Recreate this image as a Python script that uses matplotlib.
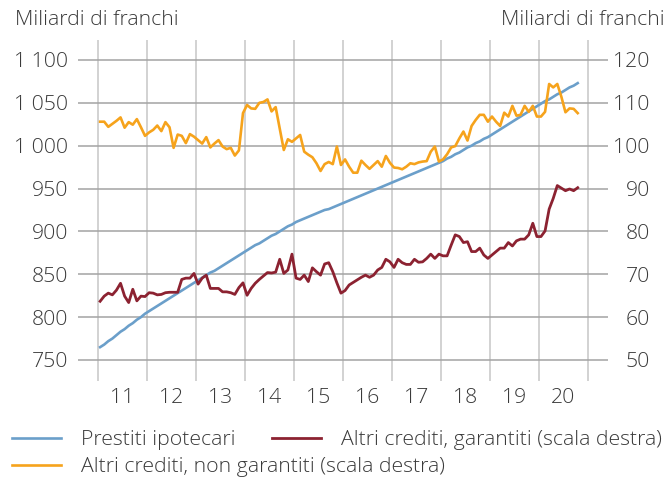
import matplotlib.pyplot as plt
import numpy as np
from matplotlib.ticker import FuncFormatter

plt.rcParams['font.family'] = ['Open Sans', 'DejaVu Sans']
plt.rcParams['font.weight'] = 'light'
TEXT = "#3a3a3a"
FS = 15.3

# DATA. Monthly, Jan 2011 - Oct 2020, billions of francs.
# Mortgage loans (left scale).
mortgages = [
    765, 768, 772, 775, 779, 783, 786, 790, 793, 797, 800, 804,
    807, 810, 813, 816, 819, 822, 825, 828, 831, 834, 837, 840,
    843, 846, 849, 852, 854, 857, 860, 863, 866, 869, 872, 875,
    878, 881, 884, 886, 889, 892, 895, 897, 900, 903, 906, 908,
    911, 913, 915, 917, 919, 921, 923, 925, 926, 928, 930, 932,
    934, 936, 938, 940, 942, 944, 946, 948, 950, 952, 954, 956,
    958, 960, 962, 964, 966, 968, 970, 972, 974, 976, 978, 980,
    982, 985, 987, 990, 992, 995, 998, 1000, 1003, 1005, 1008, 1010,
    1013, 1016, 1019, 1022, 1025, 1028, 1031, 1034, 1037, 1040, 1043, 1046,
    1049, 1052, 1054, 1057, 1060, 1062, 1065, 1068, 1070, 1073,
]
# Other loans, secured (right scale).
secured = [
    63.7, 64.9, 65.6, 65.2, 66.3, 67.9, 64.9, 63.4, 66.5, 63.8, 64.9, 64.8,
    65.7, 65.6, 65.2, 65.3, 65.7, 65.8, 65.8, 65.8, 68.8, 69.1, 69.1, 70.2,
    67.7, 69.1, 69.8, 66.7, 66.7, 66.7, 65.9, 65.9, 65.7, 65.3, 66.9, 68.0,
    65.1, 66.7, 67.9, 68.8, 69.6, 70.4, 70.3, 70.5, 73.5, 70.2, 71.0, 74.7,
    69.1, 68.8, 69.8, 68.3, 71.5, 70.6, 69.8, 72.4, 72.7, 70.6, 68.0, 65.6,
    66.2, 67.5, 68.1, 68.7, 69.3, 69.8, 69.3, 69.8, 71.0, 71.6, 73.5, 72.9,
    71.6, 73.5, 72.7, 72.3, 72.3, 73.5, 72.8, 72.9, 73.7, 74.7, 73.7, 74.7,
    74.3, 74.3, 76.8, 79.2, 78.8, 77.4, 77.6, 75.3, 75.3, 76.1, 74.5, 73.7,
    74.5, 75.3, 76.1, 76.1, 77.4, 76.6, 77.8, 78.2, 78.2, 79.2, 81.9, 78.8,
    78.8, 80.1, 85.2, 87.7, 90.7, 90.1, 89.5, 89.9, 89.5, 90.2,
]
# Other loans, unsecured (right scale).
unsecured = [
    105.6, 105.6, 104.4, 105.1, 105.8, 106.6, 104.2, 105.5, 104.9, 106.2, 104.3, 102.3,
    103.1, 103.7, 104.7, 103.4, 105.5, 104.3, 99.5, 102.6, 102.3, 100.6, 102.7, 102.1,
    101.3, 100.5, 102.0, 99.6, 100.5, 101.3, 99.8, 99.2, 99.5, 97.7, 98.9, 107.6,
    109.5, 108.7, 108.6, 110.0, 110.2, 110.8, 108.0, 109.0, 104.0, 99.0, 101.5, 100.9,
    101.7, 102.5, 98.6, 97.9, 97.3, 95.9, 94.1, 95.7, 96.2, 95.7, 99.8, 95.5,
    96.8, 95.1, 93.7, 93.7, 96.5, 95.5, 94.6, 95.5, 96.4, 95.1, 97.6, 96.0,
    94.9, 94.8, 94.5, 95.1, 95.9, 95.7, 96.1, 96.3, 96.4, 98.6, 99.8, 96.3,
    96.8, 98.0, 99.6, 99.9, 101.7, 103.3, 101.2, 104.6, 106.0, 107.2, 107.2, 105.6,
    106.8, 105.6, 104.6, 107.7, 106.8, 109.3, 107.0, 107.2, 109.3, 107.9, 109.3, 106.8,
    106.8, 107.9, 114.4, 113.6, 114.4, 111.4, 107.8, 108.7, 108.6, 107.6,
]
year_labels = ["11", "12", "13", "14", "15", "16", "17", "18", "19", "20"]

# mid-month positions in decimal years
t = 2011 + (np.arange(len(mortgages)) + 0.5) / 12

C_BLUE = "#6b9fca"
C_RED = "#8c2231"
C_ORANGE = "#f6a31c"


# PLOT.
fig = plt.figure(figsize=(6.72, 4.79), dpi=100)
ax = fig.add_axes([78 / 672, 98 / 479, 530 / 672, 341 / 479])
ax2 = ax.twinx()

lo, hi = 725.5, 1123.3
ax.set_ylim(lo, hi)
ax2.set_ylim(50 + (lo - 750) / 5, 50 + (hi - 750) / 5)
ax.set_xlim(2010.59, 2021.41)

h_blue, = ax.plot(t, mortgages, color=C_BLUE, lw=1.9, solid_joinstyle="round")
h_red, = ax2.plot(t, secured, color=C_RED, lw=2.0, solid_joinstyle="round")
h_orange, = ax2.plot(t, unsecured, color=C_ORANGE, lw=1.9, solid_joinstyle="round")

# grid: year boundaries vertical, value levels horizontal
ax.set_axisbelow(True)
ax.set_yticks(range(750, 1101, 50))
ax.set_xticks(range(2011, 2022))
ax.set_xticklabels([])
ax.set_xticks([2011.5 + i for i in range(len(year_labels))], minor=True)
ax.set_xticklabels(year_labels, minor=True)
ax.grid(axis="y", color="#a3a3a3", lw=1.1)
ax.grid(axis="x", which="major", color="#c6c6c6", lw=1.1)

ax.yaxis.set_major_formatter(FuncFormatter(lambda v, p: f"{int(v):,}".replace(",", " ")))
ax.tick_params(axis="y", length=0, pad=7, labelsize=FS, labelcolor=TEXT)
ax.tick_params(axis="x", which="both", length=0, pad=5, labelsize=FS, labelcolor=TEXT)

ax2.set_yticks(range(50, 121, 10))
ax2.tick_params(axis="y", length=0, pad=30, labelsize=FS, labelcolor=TEXT)
for lbl in ax2.get_yticklabels():
    lbl.set_horizontalalignment("right")

for a in (ax, ax2):
    for s in a.spines.values():
        s.set_visible(False)

fig.text(15 / 672, 1 - 20 / 479, "Miliardi di franchi", ha="left", va="center",
         fontsize=FS, color=TEXT)
fig.text(665 / 672, 1 - 20 / 479, "Miliardi di franchi", ha="right", va="center",
         fontsize=FS, color=TEXT)

# LEGEND.
leg_kw = dict(loc="center left", frameon=False, fontsize=FS, labelcolor=TEXT,
              handlelength=2.3, handletextpad=0.95, borderpad=0, borderaxespad=0)
for h, lab, x, y in [
    (h_blue, "Prestiti ipotecari", 12, 440),
    (h_red, "Altri crediti, garantiti (scala destra)", 272, 440),
    (h_orange, "Altri crediti, non garantiti (scala destra)", 12, 467),
]:
    fig.legend(handles=[h], labels=[lab], bbox_to_anchor=(x / 672, 1 - y / 479), **leg_kw)

plt.savefig("out.png", dpi=100)
